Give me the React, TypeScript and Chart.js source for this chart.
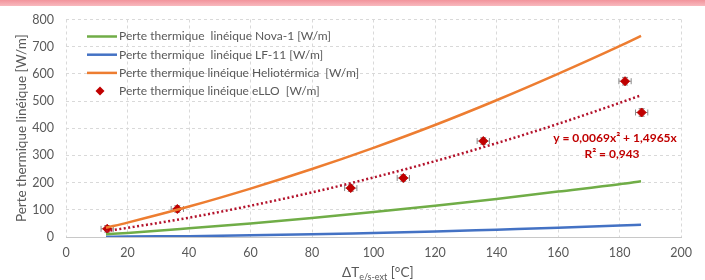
import React, { useEffect, useRef } from "react";
import { Chart, registerables } from "chart.js";

Chart.register(...registerables);

// ---- data ----
const CURVE_X = [13, 20, 40, 60, 80, 100, 120, 140, 160, 180, 187];
const NOVA1 = [10, 15, 32, 50, 70, 92, 115, 140, 167, 194, 205];
const LF11 = [1, 2, 3, 6, 10, 15, 20, 27, 34, 42, 45];
const HELIO = [34, 53, 112, 178, 250, 328, 412, 503, 600, 702, 740];

const TREND_X = [13, 40, 60, 80, 100, 120, 140, 160, 180, 187];
const TREND_Y = [21, 71, 115, 164, 219, 279, 345, 416, 493, 521];

const ELLO_X = [13.4, 36.2, 92.6, 109.7, 135.7, 181.8, 187.2];
const ELLO_Y = [30, 103, 180, 217, 353, 573, 458];
const ELLO_XERR = [2, 2, 2, 2, 2, 2, 2];
const ELLO_YERR = [12, 12, 12, 12, 12, 14, 14];

const LABELS = [
  "Perte thermique  linéique Nova-1 [W/m]",
  "Perte thermique  linéique LF-11 [W/m]",
  "Perte thermique linéique Heliotérmica  [W/m]",
  "Perte thermique linéique eLLO  [W/m]",
];
const Y_TITLE = "Perte thermique linéique [W/m]";
const X_TITLE_MAIN = "ΔT";
const X_TITLE_SUB = "e/s-ext";
const X_TITLE_END = " [°C]";
const EQ_TEXT = "y = 0,0069x² + 1,4965x";
const R2_TEXT = "R² = 0,943";

const X_MIN = 0, X_MAX = 200, X_STEP = 20;
const Y_MIN = 0, Y_MAX = 800, Y_STEP = 100;

const FONT = "Lato, 'Open Sans', sans-serif";
const TEXT_GRAY = "#595959";
const C_GREEN = "#70AD47";
const C_BLUE = "#4472C4";
const C_ORANGE = "#ED7D31";
const C_RED = "#C00000";
const C_TREND = "#B3122B";

const pts = (xs: number[], ys: number[]) => xs.map((x, i) => ({ x, y: ys[i] }));

const overlay = {
  id: "overlay",
  beforeDatasetsDraw(chart: any) {
    const { ctx, scales } = chart;
    const xs = scales.x, ys = scales.y;
    ctx.save();
    ctx.strokeStyle = "#8c8c8c";
    ctx.lineWidth = 1;
    for (let i = 0; i < ELLO_X.length; i++) {
      const px = xs.getPixelForValue(ELLO_X[i]);
      const py = ys.getPixelForValue(ELLO_Y[i]);
      const x1 = xs.getPixelForValue(ELLO_X[i] - ELLO_XERR[i]);
      const x2 = xs.getPixelForValue(ELLO_X[i] + ELLO_XERR[i]);
      const y1 = ys.getPixelForValue(ELLO_Y[i] - ELLO_YERR[i]);
      const y2 = ys.getPixelForValue(ELLO_Y[i] + ELLO_YERR[i]);
      ctx.beginPath();
      ctx.moveTo(x1, py); ctx.lineTo(x2, py);
      ctx.moveTo(x1, py - 3); ctx.lineTo(x1, py + 3);
      ctx.moveTo(x2, py - 3); ctx.lineTo(x2, py + 3);
      ctx.moveTo(px, y1); ctx.lineTo(px, y2);
      ctx.moveTo(px - 3, y1); ctx.lineTo(px + 3, y1);
      ctx.moveTo(px - 3, y2); ctx.lineTo(px + 3, y2);
      ctx.stroke();
    }
    ctx.restore();
  },
  afterDraw(chart: any) {
    const { ctx, chartArea } = chart;
    ctx.save();
    // legend
    const colors = [C_GREEN, C_BLUE, C_ORANGE];
    const lx = chartArea.left + 21;
    const ly = chartArea.top + 17;
    ctx.font = `12px ${FONT}`;
    ctx.textBaseline = "middle";
    ctx.textAlign = "left";
    for (let i = 0; i < LABELS.length; i++) {
      const y = ly + i * 18.2;
      if (i < 3) {
        ctx.strokeStyle = colors[i];
        ctx.lineWidth = 2.5;
        ctx.beginPath();
        ctx.moveTo(lx, y);
        ctx.lineTo(lx + 30, y);
        ctx.stroke();
      } else {
        ctx.fillStyle = C_RED;
        ctx.beginPath();
        const cx = lx + 13;
        ctx.moveTo(cx, y - 4.5); ctx.lineTo(cx + 4.5, y); ctx.lineTo(cx, y + 4.5); ctx.lineTo(cx - 4.5, y);
        ctx.closePath();
        ctx.fill();
      }
      ctx.fillStyle = TEXT_GRAY;
      ctx.fillText(LABELS[i], lx + 32, y);
    }
    // equation
    ctx.fillStyle = C_RED;
    ctx.font = `bold 12px ${FONT}`;
    ctx.textAlign = "center";
    ctx.fillText(EQ_TEXT, 615, 138);
    ctx.fillText(R2_TEXT, 612, 154);
    // y title
    ctx.fillStyle = TEXT_GRAY;
    ctx.font = `13.5px ${FONT}`;
    ctx.translate(22, (chartArea.top + chartArea.bottom) / 2);
    ctx.rotate(-Math.PI / 2);
    ctx.textAlign = "center";
    ctx.fillText(Y_TITLE, 0, 0);
    ctx.setTransform(1, 0, 0, 1, 0, 0);
    // x title
    ctx.textAlign = "left";
    ctx.textBaseline = "alphabetic";
    ctx.font = `13.5px ${FONT}`;
    let x = 342;
    const by = 277;
    ctx.fillText(X_TITLE_MAIN, x, by);
    x += ctx.measureText(X_TITLE_MAIN).width;
    ctx.font = `9px ${FONT}`;
    ctx.fillText(X_TITLE_SUB, x, by + 3);
    x += ctx.measureText(X_TITLE_SUB).width;
    ctx.font = `13.5px ${FONT}`;
    ctx.fillText(X_TITLE_END, x, by);
    ctx.restore();
  },
};

export default function App() {
  const ref = useRef<HTMLCanvasElement | null>(null);
  useEffect(() => {
    if (!ref.current) return;
    const line = (label: string, data: number[], color: string) => ({
      label,
      data: pts(CURVE_X, data),
      borderColor: color,
      backgroundColor: color,
      borderWidth: 2.5,
      showLine: true,
      pointRadius: 0,
      cubicInterpolationMode: "monotone" as const,
      fill: false,
    });
    const chart = new Chart(ref.current, {
      type: "scatter",
      data: {
        datasets: [
          line(LABELS[0], NOVA1, C_GREEN),
          line(LABELS[1], LF11, C_BLUE),
          line(LABELS[2], HELIO, C_ORANGE),
          {
            label: "trend",
            data: pts(TREND_X, TREND_Y),
            borderColor: C_TREND,
            borderWidth: 2.5,
            borderDash: [2, 2.5],
            showLine: true,
            pointRadius: 0,
            cubicInterpolationMode: "monotone",
          } as any,
          {
            label: LABELS[3],
            data: pts(ELLO_X, ELLO_Y),
            backgroundColor: C_RED,
            borderColor: C_RED,
            pointStyle: "rectRot",
            pointRadius: 4.5,
            showLine: false,
          },
        ],
      },
      options: {
        animation: false,
        responsive: false,
        maintainAspectRatio: false,
        layout: { padding: { top: 17, right: 24, left: 0, bottom: 0 } },
        plugins: { legend: { display: false }, tooltip: { enabled: false } },
        scales: {
          x: {
            type: "linear",
            min: X_MIN,
            max: X_MAX,
            ticks: { stepSize: X_STEP, color: TEXT_GRAY, font: { family: FONT, size: 12.5 }, padding: 8 },
            grid: { color: "#d9d9d9", drawTicks: false, lineWidth: 1 },
            border: { display: true, color: "#c8c8c8", dash: [3, 3] },
            afterFit: (s: any) => { s.height = 43; },
          },
          y: {
            type: "linear",
            min: Y_MIN,
            max: Y_MAX,
            ticks: { stepSize: Y_STEP, color: TEXT_GRAY, font: { family: FONT, size: 12.5 }, padding: 12 },
            grid: {
              color: (c: any) => (c.tick && c.tick.value === 0 ? "rgba(0,0,0,0)" : "#d9d9d9"),
              drawTicks: false,
              lineWidth: 1,
            },
            border: { display: false, dash: [3, 3] },
            afterFit: (s: any) => { s.width = 66; },
          },
        },
      },
      plugins: [overlay],
    } as any);
    return () => chart.destroy();
  }, []);
  return (
    <div style={{ position: "fixed", left: 0, top: 0, width: 705, height: 280, background: "#fff" }}>
      <canvas ref={ref} width={705} height={280} style={{ position: "absolute", left: 0, top: 0, width: 705, height: 280 }} />
      <div
        style={{
          position: "absolute",
          left: 0,
          top: 0,
          width: 705,
          height: 6,
          background: "linear-gradient(to bottom, #f2949c, #f8b9be)",
        }}
      />
    </div>
  );
}
